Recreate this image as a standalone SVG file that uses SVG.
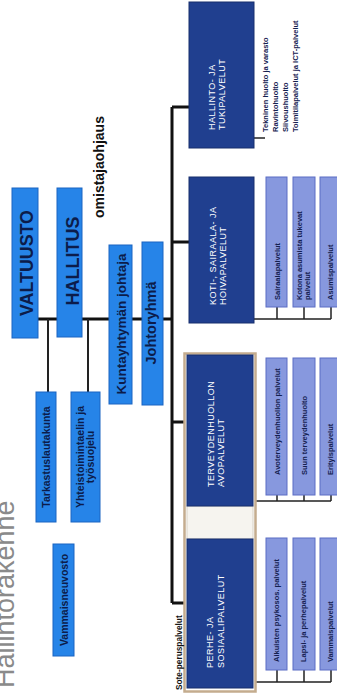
<svg xmlns="http://www.w3.org/2000/svg" width="337" height="697" viewBox="0 0 337 697">
<style>
text{font-family:"Liberation Sans",Arial,sans-serif}
.bb{fill:#2684e8;stroke:#1a64c2;stroke-width:1}
.bt{font-weight:700;fill:#0c1c4a}
.db{fill:#203f8f;stroke:#162e6c;stroke-width:1}
.dt{font-size:9px;fill:#ffffff;letter-spacing:0.5px}
.lb{fill:#8798de;stroke:#5b6dc4;stroke-width:1}
.lt{font-size:7.5px;font-weight:700;fill:#14204f}
.thick{stroke:#111;stroke-width:3;fill:none}
.mid{stroke:#222;stroke-width:2;fill:none}
.thin{stroke:#222;stroke-width:1.5;fill:none}
</style>
<rect width="337" height="697" fill="#ffffff"/>
<text transform="translate(14,688) rotate(-90)" font-size="27" fill="#8a8a8a">Hallintorakenne</text>
<text transform="translate(104,218) rotate(-90)" font-size="14" font-weight="700" fill="#111">omistajaohjaus</text>

<g id="connectors">
<path class="thick" d="M38,319H57M82,319H109M132,319H142M163,319H172"/>
<path class="mid" d="M48,319V392M88,319V392"/>
<path class="thick" d="M172,107V603M172,107H189M172,242H189M172,422H187M172,603H184"/>
<path class="thin" d="M254,138H265"/>
<path class="thin" d="M254,319H331M277,307V319M304,307V319M331,307V319"/>
<path class="thin" d="M254,501H331M277,495V501M304,495V501M331,495V501"/>
<path class="thin" d="M254,682H331M277,670V682M304,670V682M331,670V682"/>
</g>

<g id="valtuusto"><rect class="bb" x="12" y="188" width="26" height="150"/>
<text class="bt" transform="translate(33,263) rotate(-90)" font-size="19" text-anchor="middle" textLength="106" lengthAdjust="spacingAndGlyphs">VALTUUSTO</text></g>
<g id="hallitus"><rect class="bb" x="57" y="188" width="25" height="149"/>
<text class="bt" transform="translate(79,261) rotate(-90)" font-size="18" text-anchor="middle">HALLITUS</text></g>
<g id="johtaja"><rect class="bb" x="109" y="245" width="23" height="159"/>
<text class="bt" transform="translate(126,324) rotate(-90)" font-size="13.5" text-anchor="middle">Kuntayhtymän johtaja</text></g>
<g id="johtoryhma"><rect class="bb" x="142" y="242" width="21" height="163"/>
<text class="bt" transform="translate(156,323) rotate(-90)" font-size="14.5" text-anchor="middle">Johtoryhmä</text></g>
<g id="tarkastus"><rect class="bb" x="36" y="392" width="20" height="130"/>
<text class="bt" transform="translate(50,457) rotate(-90)" font-size="10.5" text-anchor="middle">Tarkastuslautakunta</text></g>
<g id="yhteistoiminta"><rect class="bb" x="71" y="392" width="29" height="130"/>
<text class="bt" font-size="10.5" text-anchor="middle" transform="translate(84,457) rotate(-90)">Yhteistoimintaelin ja</text>
<text class="bt" font-size="10.5" text-anchor="middle" transform="translate(94,457) rotate(-90)">työsuojelu</text></g>
<g id="vammaisneuvosto"><rect class="bb" x="53" y="544" width="21" height="112"/>
<text class="bt" transform="translate(68,600) rotate(-90)" font-size="10.5" text-anchor="middle">Vammaisneuvosto</text></g>

<g id="hallinto"><rect class="db" x="189" y="2" width="65" height="146"/>
<text class="dt" transform="translate(215,130) rotate(-90)">HALLINTO- JA</text>
<text class="dt" transform="translate(225,130) rotate(-90)">TUKIPALVELUT</text>
<g class="lt" font-size="7.8">
<text class="lt" transform="translate(268,132) rotate(-90)">Tekninen huolto ja varasto</text>
<text class="lt" transform="translate(278,132) rotate(-90)">Ravintohuolto</text>
<text class="lt" transform="translate(288,132) rotate(-90)">Siivoushuolto</text>
<text class="lt" transform="translate(298,132) rotate(-90)">Toimitilapalvelut ja ICT-palvelut</text>
</g></g>

<g id="koti"><rect class="db" x="189" y="177" width="65" height="146"/>
<text class="dt" transform="translate(216,305) rotate(-90)">KOTI-, SAIRAALA- JA</text>
<text class="dt" transform="translate(226,305) rotate(-90)">HOIVAPALVELUT</text></g>
<g id="koti-children">
<rect class="lb" x="266" y="177" width="21" height="130"/>
<text class="lt" transform="translate(280,300) rotate(-90)">Sairaalapalvelut</text>
<rect class="lb" x="293" y="177" width="22" height="130"/>
<text class="lt" transform="translate(302,300) rotate(-90)">Kotona asumista tukevat</text>
<text class="lt" transform="translate(310,300) rotate(-90)">palvelut</text>
<rect class="lb" x="320" y="177" width="22" height="130"/>
<text class="lt" transform="translate(333,300) rotate(-90)">Asumispalvelut</text>
</g>

<g id="sote">
<rect x="184.5" y="353.5" width="71" height="338" fill="#ffffff" stroke="#c4ac8e" stroke-width="2.5"/>
<rect x="187" y="506" width="66" height="33" fill="#f6f4ef" stroke="#d8d2c6" stroke-width="1"/>
<text transform="translate(182,690) rotate(-90)" font-size="8.3" font-weight="700" fill="#111">Sote-peruspalvelut</text>
</g>
<g id="terveydenhuolto"><rect class="db" x="187" y="355" width="66" height="151"/>
<text class="dt" transform="translate(214,487) rotate(-90)">TERVEYDENHUOLLON</text>
<text class="dt" transform="translate(224,487) rotate(-90)">AVOPALVELUT</text></g>
<g id="terveys-children">
<rect class="lb" x="266" y="358" width="21" height="137"/>
<text class="lt" transform="translate(280,475) rotate(-90)">Avoterveydenhuollon palvelut</text>
<rect class="lb" x="293" y="358" width="22" height="137"/>
<text class="lt" transform="translate(307,475) rotate(-90)">Suun terveydenhuolto</text>
<rect class="lb" x="320" y="358" width="22" height="137"/>
<text class="lt" transform="translate(333,475) rotate(-90)">Erityispalvelut</text>
</g>
<g id="perhe"><rect class="db" x="187" y="539" width="66" height="149"/>
<text class="dt" transform="translate(213,668) rotate(-90)">PERHE- JA</text>
<text class="dt" transform="translate(224,668) rotate(-90)">SOSIAALIPALVELUT</text></g>
<g id="perhe-children">
<rect class="lb" x="266" y="538" width="21" height="132"/>
<text class="lt" transform="translate(279,662) rotate(-90)">Aikuisten psykosos. palvelut</text>
<rect class="lb" x="293" y="538" width="22" height="132"/>
<text class="lt" transform="translate(306,662) rotate(-90)">Lapsi- ja perhepalvelut</text>
<rect class="lb" x="320" y="538" width="22" height="132"/>
<text class="lt" transform="translate(333,662) rotate(-90)">Vammaispalvelut</text>
</g>
</svg>
